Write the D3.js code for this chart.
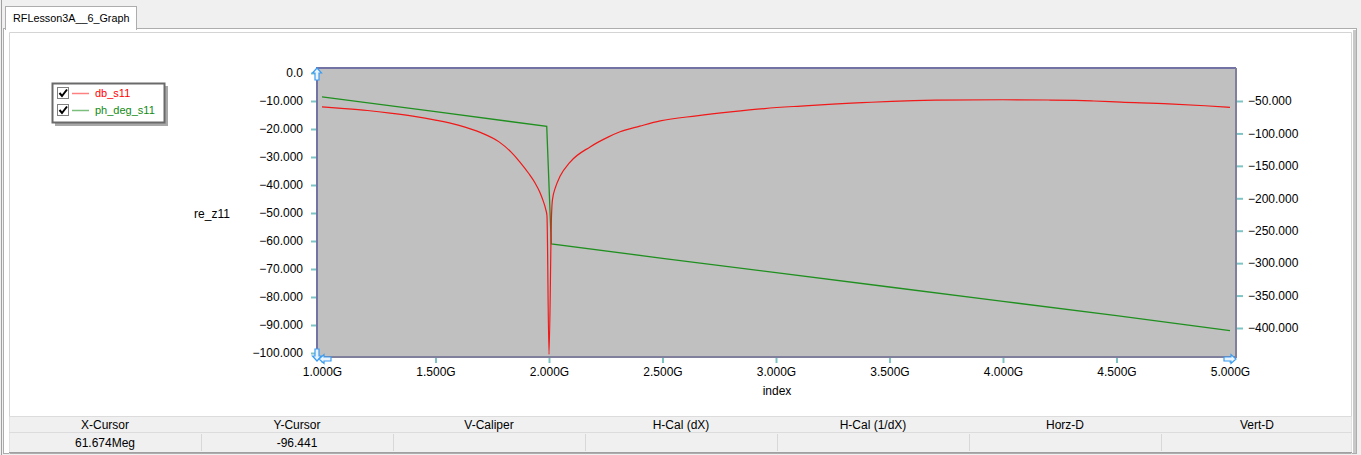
<!DOCTYPE html>
<html>
<head>
<meta charset="utf-8">
<script src="https://cdn.jsdelivr.net/npm/d3@7"></script>
<style>
  body { margin: 0; background: #f0f0f0; }
  svg { display: block; font-family: "Liberation Sans", Arial, sans-serif; }
</style>
</head>
<body>
<svg width="1361" height="455"></svg>
<script>
// data (GHz vs dB / degrees)
const dbFreq = [1.00, 1.10, 1.20, 1.30, 1.40, 1.50, 1.60, 1.70, 1.78, 1.83, 1.872, 1.91, 1.938, 1.962, 1.974, 1.985, 1.991,
                2.000, 2.011, 2.015, 2.030, 2.048, 2.093, 2.181, 2.26, 2.313, 2.40, 2.49, 2.65, 2.80, 2.95, 3.11,
                3.25, 3.38, 3.51, 3.70, 4.00, 4.20, 4.32, 4.40, 4.52, 4.73, 4.89, 5.00];
const dbS11 = [-12.1, -12.7, -13.4, -14.3, -15.4, -16.8, -18.6, -21.3, -24.6, -28.0, -31.8, -35.8, -39.2, -43.0, -45.6, -48.5, -51.0,
               -100.5, -51.0, -45.4, -40.5, -37.0, -31.8, -26.4, -22.9, -21.0, -19.0, -17.1, -15.3, -13.9, -12.7, -11.8,
               -11.1, -10.6, -10.1, -9.7, -9.55, -9.65, -9.8, -10.0, -10.4, -11.0, -11.7, -12.3];

const phFreq = [1.00, 1.50, 1.99, 2.01, 2.50, 3.00, 3.50, 4.00, 4.50, 5.00];
const phS11 = [-43.6, -66.3, -89.2, -270.5, -292.5, -314.6, -336.8, -358.9, -381.0, -404.0];

const seriesNames = ['db_s11', 'ph_deg_s11'];
const xTicks = [1.0, 1.5, 2.0, 2.5, 3.0, 3.5, 4.0, 4.5, 5.0];
const leftTicks = [0, -10, -20, -30, -40, -50, -60, -70, -80, -90, -100];
const rightTicks = [-50, -100, -150, -200, -250, -300, -350, -400];
const tableHeads = ['X-Cursor', 'Y-Cursor', 'V-Caliper', 'H-Cal (dX)', 'H-Cal (1/dX)', 'Horz-D', 'Vert-D'];
const tableVals = ['61.674Meg', '-96.441', '', '', '', '', ''];

const svg = d3.select('svg');

// window chrome: tab + panel
svg.append('rect').attr('x', 0).attr('y', 0).attr('width', 1361).attr('height', 455).attr('fill', '#f0f0f0');
svg.append('line').attr('x1', 1.5).attr('x2', 1.5).attr('y1', 0).attr('y2', 455).attr('stroke', '#a0a0a0');
svg.append('rect').attr('x', 3.5).attr('y', 28.5).attr('width', 1353).attr('height', 425)
   .attr('fill', '#fff').attr('stroke', '#adadad');
svg.append('rect').attr('x', 5.5).attr('y', 6.5).attr('width', 131).attr('height', 23)
   .attr('fill', '#fff').attr('stroke', '#adadad');
svg.append('rect').attr('x', 6).attr('y', 28).attr('width', 130).attr('height', 2).attr('fill', '#fff');
svg.append('text').attr('x', 13).attr('y', 22).attr('font-size', 10.8).attr('fill', '#000').text('RFLesson3A__6_Graph');
svg.append('path').attr('d', 'M9.5,454 V32.5 H1351.5 V454').attr('fill', 'none').attr('stroke', '#d4d4d4');
svg.append('line').attr('x1', 1354.5).attr('x2', 1354.5).attr('y1', 30).attr('y2', 453).attr('stroke', '#c8c8c8').attr('stroke-width', 3);

// plot
const pl = 317, pr = 1236, pt = 68, pb = 357;
const x = d3.scaleLinear().domain([1, 5]).range([322, 1230]);
const yL = d3.scaleLinear().domain([-100, 0]).range([353, 73]);
const yR = d3.scaleLinear().domain([-400, -50]).range([328, 101]);

svg.append('rect').attr('x', pl).attr('y', pt).attr('width', pr - pl).attr('height', pb - pt).attr('fill', '#c0c0c0');
svg.append('path').attr('d', `M${pl},${pb} V${pt} H${pr}`).attr('fill', 'none').attr('stroke', '#7272a4').attr('stroke-width', 2);
svg.append('path').attr('d', `M${pr},${pt} V${pb} H${pl}`).attr('fill', 'none').attr('stroke', '#80809c').attr('stroke-width', 2);

const fmt3 = d3.format('.3f');
const tickCol = '#7fc4c4';

const axL = svg.append('g').attr('transform', `translate(${pl - 1},0)`)
  .call(d3.axisLeft(yL).tickValues(leftTicks).tickSize(5).tickPadding(8)
          .tickFormat(d => d === 0 ? '0.0' : fmt3(d)));
const axR = svg.append('g').attr('transform', `translate(${pr + 1},0)`)
  .call(d3.axisRight(yR).tickValues(rightTicks).tickSize(6).tickPadding(5).tickFormat(fmt3));
const axB = svg.append('g').attr('transform', `translate(0,${pb + 1})`)
  .call(d3.axisBottom(x).tickValues(xTicks).tickSize(5).tickPadding(4).tickFormat(d => fmt3(d) + 'G'));
[axL, axR, axB].forEach(a => {
  a.select('.domain').remove();
  a.selectAll('.tick line').attr('stroke', tickCol).attr('stroke-width', 2);
  a.selectAll('.tick text').attr('font-size', 12).attr('fill', '#000')
   .attr('font-family', '"Liberation Sans", Arial, sans-serif');
});

svg.append('text').attr('x', 212).attr('y', 218).attr('text-anchor', 'middle').attr('font-size', 12).text('re_z11');
svg.append('text').attr('x', 777).attr('y', 395).attr('text-anchor', 'middle').attr('font-size', 12).text('index');

// series
svg.append('clipPath').attr('id', 'pc').append('rect')
  .attr('x', pl + 1).attr('y', pt + 1).attr('width', pr - pl - 2).attr('height', pb - pt - 2);
const gLines = svg.append('g').attr('clip-path', 'url(#pc)');
const phData = phFreq.map((f, i) => [f, phS11[i]]);
const dbData = dbFreq.map((f, i) => [f, dbS11[i]]);
gLines.append('path').datum(phData).attr('fill', 'none').attr('stroke', '#1f8f1f').attr('stroke-width', 1.3)
  .attr('d', d3.line().x(d => x(d[0])).y(d => yR(d[1])));
gLines.append('path').datum(dbData).attr('fill', 'none').attr('stroke', '#f01818').attr('stroke-width', 1.2)
  .attr('d', d3.line().curve(d3.curveMonotoneX).x(d => x(d[0])).y(d => yL(d[1])));

// cursor arrows
const arrow = (tx, ty, rot) => svg.append('path')
  .attr('d', 'M0,0 L4.5,5 H2 V12 H-2 V5 H-4.5 Z')
  .attr('transform', `translate(${tx},${ty}) rotate(${rot})`)
  .attr('fill', '#eaf4ff').attr('stroke', '#3c9cf0').attr('stroke-width', 1.2);
arrow(317, 68, 0);
arrow(317, 361, 180);
arrow(319, 359, -90);
arrow(1236, 359, 90);

// legend
const lg = svg.append('g').attr('transform', 'translate(52,83)');
lg.append('rect').attr('x', 3).attr('y', 3).attr('width', 113).attr('height', 40).attr('fill', '#a8a8a8');
lg.append('rect').attr('x', 0.5).attr('y', 0.5).attr('width', 112).attr('height', 39).attr('fill', '#fff')
  .attr('stroke', '#6a6a6a').attr('stroke-width', 2);
const legCols = ['#ff8080', '#7cbf7c'], legText = ['#ff0000', '#118a11'];
seriesNames.forEach((n, i) => {
  const row = lg.append('g').attr('transform', `translate(0,${10 + i * 17})`);
  row.append('rect').attr('x', 5.5).attr('y', -5.5).attr('width', 11).attr('height', 11)
     .attr('fill', '#fff').attr('stroke', '#808080');
  row.append('path').attr('d', 'M7.5,0 L10,3 L15,-3.5').attr('fill', 'none').attr('stroke', '#000').attr('stroke-width', 2);
  row.append('line').attr('x1', 20).attr('x2', 37).attr('y1', 0.5).attr('y2', 0.5).attr('stroke', legCols[i]).attr('stroke-width', 1.5);
  row.append('text').attr('x', 43).attr('y', 4).attr('font-size', 11).attr('fill', legText[i]).text(n);
});

// cursor table
const colW = 192, tx0 = 9;
svg.append('rect').attr('x', 9.5).attr('y', 416.5).attr('width', 1342).attr('height', 36).attr('fill', '#f0f0f0');
svg.append('line').attr('x1', 9).attr('x2', 1352).attr('y1', 416.5).attr('y2', 416.5).attr('stroke', '#dcdcdc');
svg.append('line').attr('x1', 9).attr('x2', 1352).attr('y1', 432.5).attr('y2', 432.5).attr('stroke', '#dcdcdc');
svg.append('line').attr('x1', 9).attr('x2', 1352).attr('y1', 452.5).attr('y2', 452.5).attr('stroke', '#a0a0a0');
tableHeads.forEach((h, i) => {
  const cx = tx0 + colW * i + colW / 2;
  svg.append('text').attr('x', cx).attr('y', 429).attr('text-anchor', 'middle').attr('font-size', 12).text(h);
  svg.append('text').attr('x', cx).attr('y', 447).attr('text-anchor', 'middle').attr('font-size', 12).text(tableVals[i]);
  if (i > 0) svg.append('line').attr('x1', tx0 + colW * i + 0.5).attr('x2', tx0 + colW * i + 0.5)
    .attr('y1', 434).attr('y2', 451).attr('stroke', '#d8d8d8');
});
</script>
</body>
</html>
